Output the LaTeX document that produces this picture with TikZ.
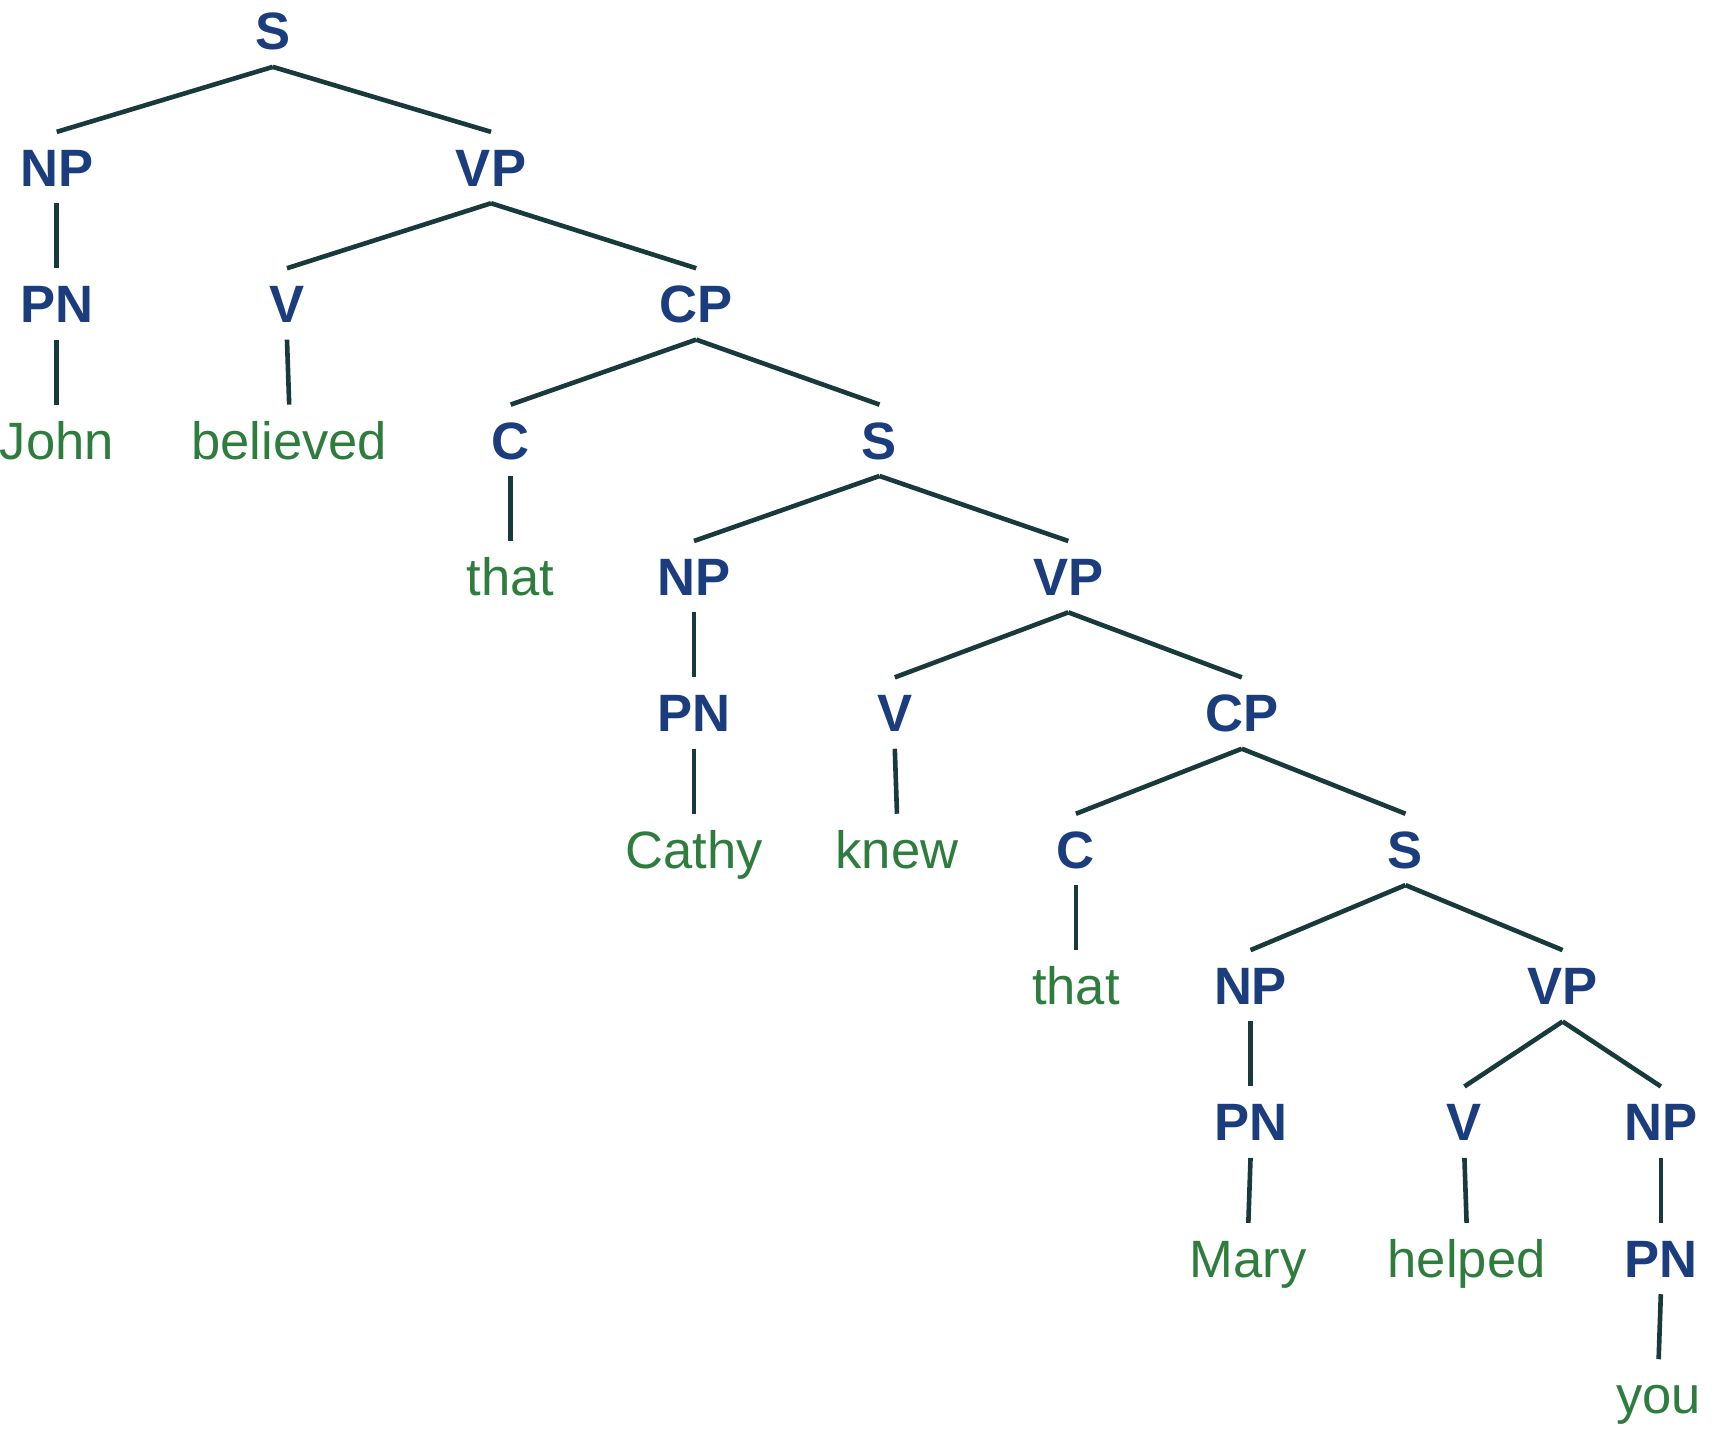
\documentclass[tikz,border=0pt]{standalone}
\usepackage{fontspec}
\setmainfont{Liberation Sans}
\definecolor{azulcat}{RGB}{27,61,125}
\definecolor{verdepal}{RGB}{46,125,62}
\definecolor{gristrazo}{RGB}{24,58,58}
\tikzset{
  cat/.style={font=\fontsize{13.7}{16}\selectfont\bfseries, text=azulcat, anchor=base,
    inner xsep=0pt, inner ysep=4.2pt, text height=9.8pt, text depth=0pt},
  pal/.style={cat, font=\fontsize{13.7}{16}\selectfont, text=verdepal},
  rama/.style={draw=gristrazo, line width=1.2pt}
}
\begin{document}
\begin{tikzpicture}[x=0.01cm, y=-1.249cm]
            \useasboundingbox (0cm,0cm) rectangle (15.68cm,-13.08cm);
            \begin{scope}[yshift=-0.458cm]
            % oracion principal
            \node[cat] (s1) at (250,0) {S};
            \node[cat] (np1) at (52,1) {NP};
            \node[cat] (vp1) at (450,1) {VP};
            \node[cat] (pn1) at (52,2) {PN};
            \node[cat] (v1) at (263,2) {V};
            \node[cat] (cp1) at (638,2) {CP};
            \node[pal] (john) at (52,3) {John};
            \node[pal] (believed) at (265,3) {believed};
            \node[cat] (c1) at (468,3) {C};
            \node[cat] (s2) at (806,3) {S};
            % primera subordinada
            \node[pal] (that1) at (468,4) {that};
            \node[cat] (np2) at (636,4) {NP};
            \node[cat] (vp2) at (979,4) {VP};
            \node[cat] (pn2) at (636,5) {PN};
            \node[cat] (v2) at (820,5) {V};
            \node[cat] (cp2) at (1138,5) {CP};
            \node[pal] (cathy) at (636,6) {Cathy};
            \node[pal] (knew) at (822,6) {knew};
            \node[cat] (c2) at (986,6) {C};
            \node[cat] (s3) at (1288,6) {S};
            % segunda subordinada
            \node[pal] (that2) at (986,7) {that};
            \node[cat] (np3) at (1146,7) {NP};
            \node[cat] (vp3) at (1432,7) {VP};
            \node[cat] (pn3) at (1146,8) {PN};
            \node[cat] (v3) at (1342,8) {V};
            \node[cat] (np4) at (1522,8) {NP};
            \node[pal] (mary) at (1144,9) {Mary};
            \node[pal] (helped) at (1344,9) {helped};
            \node[cat] (pn4) at (1522,9) {PN};
            \node[pal] (you) at (1520,10) {you};
            \end{scope}
            % ramas
            \foreach \a/\b in {s1/np1, s1/vp1, np1/pn1, pn1/john, vp1/v1, vp1/cp1,
              v1/believed, cp1/c1, cp1/s2, c1/that1, s2/np2, s2/vp2, np2/pn2,
              pn2/cathy, vp2/v2, vp2/cp2, v2/knew, cp2/c2, cp2/s3, c2/that2,
              s3/np3, s3/vp3, np3/pn3, pn3/mary, vp3/v3, vp3/np4, v3/helped,
              np4/pn4, pn4/you}
            \draw[rama] (\a.south) -- (\b.north);
\end{tikzpicture}
\end{document}
